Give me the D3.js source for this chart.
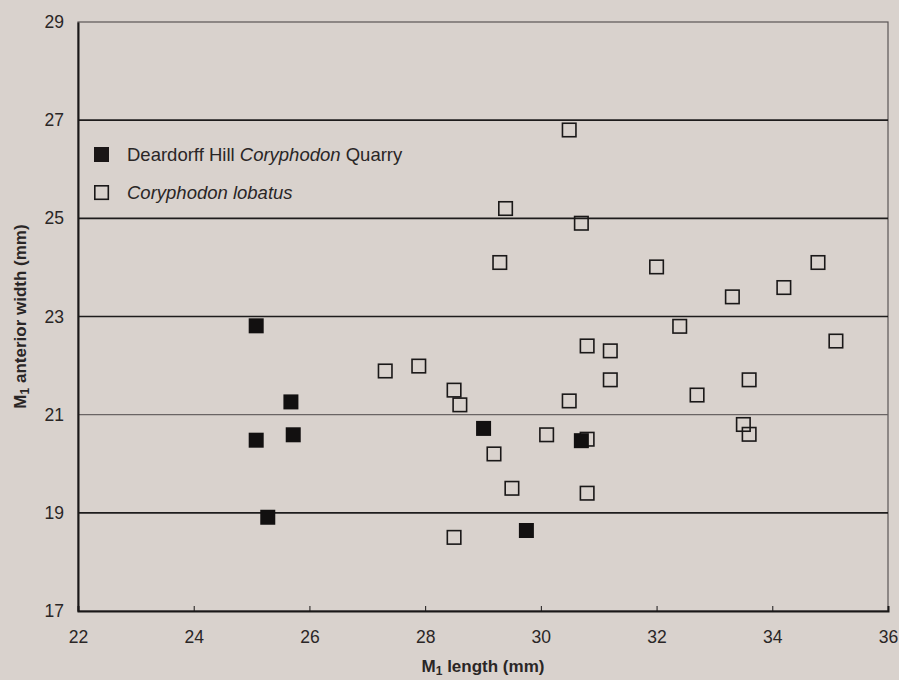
<!DOCTYPE html>
<html><head><meta charset="utf-8">
<script src="https://cdn.jsdelivr.net/npm/d3@7"></script>
<style>
html,body{margin:0;padding:0;background:#d9d2cd;}
svg{display:block;font-family:"Liberation Sans",Arial,sans-serif;}
</style></head><body>
<svg id="chart" width="899" height="680"></svg>
<script>
// Data
const quarryX = [25.08, 25.68, 25.08, 25.72, 25.28, 29.01, 29.75, 30.70];
const quarryY = [22.81, 21.26, 20.48, 20.59, 18.91, 20.72, 18.64, 20.47];
const lobatusX = [30.49, 29.39, 30.70, 29.29, 32.00, 34.79, 34.20, 33.31, 32.40, 35.10,
                  30.80, 31.20, 31.20, 33.60, 32.70, 33.50, 33.60, 30.10, 30.80, 29.19,
                  29.50, 30.80, 28.50, 28.50, 28.60, 30.49, 27.31, 27.89];
const lobatusY = [26.80, 25.20, 24.90, 24.10, 24.01, 24.10, 23.59, 23.40, 22.80, 22.50,
                  22.40, 22.30, 21.71, 21.71, 21.40, 20.80, 20.60, 20.59, 20.50, 20.20,
                  19.50, 19.40, 18.50, 21.50, 21.20, 21.28, 21.89, 21.99];
const xTicks = [22, 24, 26, 28, 30, 32, 34, 36];
const yTicks = [17, 19, 21, 23, 25, 27, 29];
const gridDark = [19, 23, 25, 27];
const gridLight = [21];

const svg = d3.select("#chart");
const L = 78, R = 888, T = 22, B = 611;
const x = d3.scaleLinear().domain([22, 36]).range([L, R]);
const y = d3.scaleLinear().domain([17, 29]).range([B, T]);
const FONT = "'Liberation Sans',Arial,sans-serif";
const TXT = "#2a2626";

// frame (top/right)
svg.append("rect").attr("x", L).attr("y", T).attr("width", R - L).attr("height", B - T)
  .attr("fill", "none").attr("stroke", "#5a5555").attr("stroke-width", 1.2);

// gridlines
svg.selectAll("line.gd").data(gridDark).join("line")
  .attr("x1", L).attr("x2", R).attr("y1", d => y(d)).attr("y2", d => y(d))
  .attr("stroke", "#1e1c1c").attr("stroke-width", 1.6);
svg.selectAll("line.gl").data(gridLight).join("line")
  .attr("x1", L).attr("x2", R).attr("y1", d => y(d)).attr("y2", d => y(d))
  .attr("stroke", "#6a6464").attr("stroke-width", 1.3);

// axes
const xAxis = d3.axisBottom(x).tickValues(xTicks).tickSize(-5).tickPadding(14).tickFormat(d3.format("d"));
const gx = svg.append("g").attr("transform", `translate(0,${B})`).call(xAxis);
gx.select(".domain").attr("stroke", "#1a1818").attr("stroke-width", 2);
gx.selectAll(".tick line").attr("stroke", "#1a1818");
gx.selectAll("text").attr("font-size", 17.5).attr("fill", TXT).attr("font-family", FONT)
  .attr("y", 20);

const yAxis = d3.axisLeft(y).tickValues(yTicks).tickSize(0).tickPadding(14).tickFormat(d3.format("d"));
const gy = svg.append("g").attr("transform", `translate(${L},0)`).call(yAxis);
gy.select(".domain").attr("stroke", "#1a1818").attr("stroke-width", 2);
gy.selectAll("text").attr("font-size", 17.5).attr("fill", TXT).attr("font-family", FONT);

// open markers
const so = 13.5;
svg.selectAll("rect.open").data(lobatusX.map((d, i) => [d, lobatusY[i]])).join("rect")
  .attr("x", d => x(d[0]) - so / 2).attr("y", d => y(d[1]) - so / 2)
  .attr("width", so).attr("height", so)
  .attr("fill", "none").attr("stroke", "#1a1818").attr("stroke-width", 1.6);

// filled markers
const sf = 15;
svg.selectAll("rect.fill").data(quarryX.map((d, i) => [d, quarryY[i]])).join("rect")
  .attr("x", d => x(d[0]) - sf / 2).attr("y", d => y(d[1]) - sf / 2)
  .attr("width", sf).attr("height", sf).attr("fill", "#121010");

// legend
svg.append("rect").attr("x", 94).attr("y", 147).attr("width", 15).attr("height", 15).attr("fill", "#1a1616");
svg.append("rect").attr("x", 94.8).attr("y", 185.8).attr("width", 13.5).attr("height", 13.5)
  .attr("fill", "none").attr("stroke", "#1a1818").attr("stroke-width", 1.6);
const t1 = svg.append("text").attr("x", 127).attr("y", 161).attr("font-size", 18.5).attr("fill", TXT);
t1.append("tspan").text("Deardorff Hill ");
t1.append("tspan").attr("font-style", "italic").text("Coryphodon");
t1.append("tspan").text(" Quarry");
svg.append("text").attr("x", 127).attr("y", 199).attr("font-size", 18.5).attr("fill", TXT)
  .attr("font-style", "italic").text("Coryphodon lobatus");

// axis titles
const xt = svg.append("text").attr("x", (L + R) / 2).attr("y", 672).attr("text-anchor", "middle")
  .attr("font-size", 17).attr("font-weight", "bold").attr("fill", TXT);
xt.append("tspan").text("M");
xt.append("tspan").attr("font-size", 12).attr("dy", 3).text("1");
xt.append("tspan").attr("dy", -3).text(" length (mm)");

const yt = svg.append("text").attr("transform", `translate(26,${(T + B) / 2}) rotate(-90)`)
  .attr("text-anchor", "middle").attr("font-size", 17).attr("font-weight", "bold").attr("fill", TXT);
yt.append("tspan").text("M");
yt.append("tspan").attr("font-size", 12).attr("dy", 3).text("1");
yt.append("tspan").attr("dy", -3).text(" anterior width (mm)");
</script>
</body></html>
